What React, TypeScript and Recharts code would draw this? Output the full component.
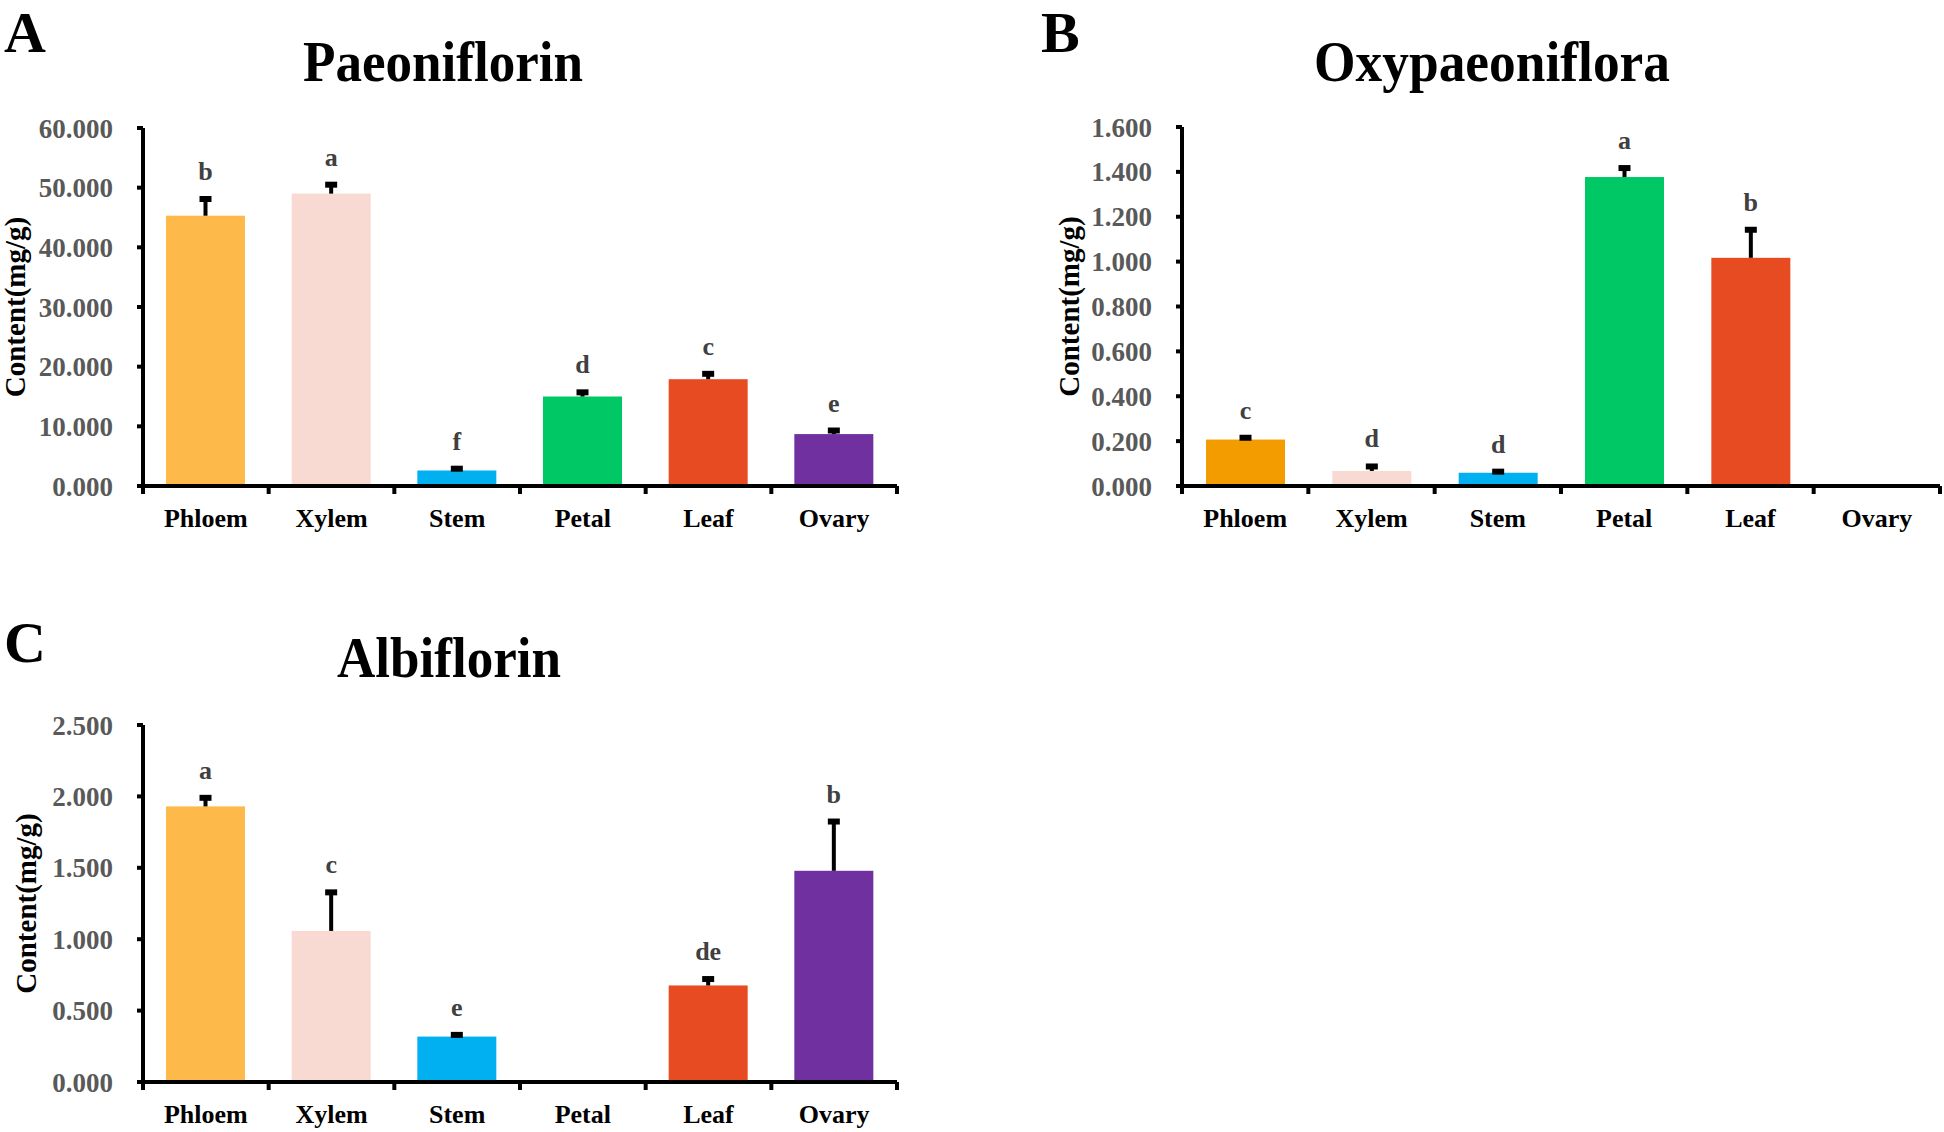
import { Bar, BarChart, Cell, XAxis, YAxis } from "recharts"

const FONT = '"Liberation Serif", "Times New Roman", serif'

const categories = ["Phloem", "Xylem", "Stem", "Petal", "Leaf", "Ovary"]

// A: Paeoniflorin (mg/g)
const paeoniflorin = [45.3, 49.0, 2.6, 15.0, 17.9, 8.7]
const paeoniflorinErr = [2.8, 1.5, 0.3, 0.7, 0.9, 0.6]
const paeoniflorinLetters = ["b", "a", "f", "d", "c", "e"]
const paeoniflorinTicks = [0, 10, 20, 30, 40, 50, 60]

// B: Oxypaeoniflora (mg/g)
const oxypaeoniflora = [0.207, 0.067, 0.059, 1.377, 1.017, 0]
const oxypaeonifloraErr = [0.008, 0.02, 0.005, 0.04, 0.125, 0]
const oxypaeonifloraLetters = ["c", "d", "d", "a", "b", ""]
const oxypaeonifloraTicks = [0, 0.2, 0.4, 0.6, 0.8, 1.0, 1.2, 1.4, 1.6]

// C: Albiflorin (mg/g)
const albiflorin = [1.93, 1.058, 0.318, 0, 0.676, 1.479]
const albiflorinErr = [0.06, 0.27, 0.012, 0, 0.045, 0.345]
const albiflorinLetters = ["a", "c", "e", "", "de", "b"]
const albiflorinTicks = [0, 0.5, 1.0, 1.5, 2.0, 2.5]

const colorsMain = ["#FDB94A", "#F8DAD2", "#00B0F0", "#00C864", "#E64B22", "#7030A0"]
const colorsOxy = ["#F39C00", "#F8DAD2", "#00B0F0", "#00C864", "#E64B22", "#7030A0"]

function CatTick(props: any) {
  const { x, y, payload, index, visibleTicksCount, half } = props
  return (
    <g>
      <line x1={x - half} x2={x - half} y1={y} y2={y + 8} stroke="#000" strokeWidth={4} />
      {index === visibleTicksCount - 1 && (
        <line x1={x + half} x2={x + half} y1={y} y2={y + 8} stroke="#000" strokeWidth={4} />
      )}
      <text x={x} y={y + 41} textAnchor="middle" fontFamily={FONT} fontSize={26} fontWeight={700} fill="#000">
        {payload.value}
      </text>
    </g>
  )
}

type PanelProps = {
  left: number
  top: number
  width: number
  height: number
  marginTop: number
  marginRight: number
  yWidth: number
  xHeight: number
  titleX: number
  values: number[]
  errors: number[]
  letters: string[]
  colors: string[]
  ticks: number[]
}

function Panel(p: PanelProps) {
  const data = categories.map((name, i) => ({ name, value: p.values[i] }))
  const half = (p.width - p.yWidth - p.marginRight) / 12

  // bar + upper error bar + significance letter, error length scaled by the bar's own px/unit
  const shape = (s: any) => {
    const i = categories.indexOf(s.payload?.name)
    const v = p.values[i]
    const { x, y, width, height, fill } = s
    if (!(height > 0) || !(v > 0)) return <g />
    const perUnit = height / v
    const cx = x + width / 2
    const capY = y - p.errors[i] * perUnit
    return (
      <g>
        <rect x={x} y={y} width={width} height={height} fill={fill} />
        <line x1={cx} x2={cx} y1={y} y2={capY} stroke="#000" strokeWidth={4} />
        <line x1={cx - 6} x2={cx + 6} y1={capY} y2={capY} stroke="#000" strokeWidth={6} />
        <text x={cx} y={capY - 19} textAnchor="middle" fontFamily={FONT} fontSize={26} fontWeight={700} fill="#404040">
          {p.letters[i]}
        </text>
      </g>
    )
  }

  return (
    <div style={{ position: "absolute", left: p.left, top: p.top }}>
      <BarChart
        width={p.width}
        height={p.height}
        data={data}
        barSize={79}
        margin={{ top: p.marginTop, right: p.marginRight, bottom: 0, left: 0 }}
      >
        <XAxis
          dataKey="name"
          height={p.xHeight}
          interval={0}
          axisLine={{ stroke: "#000", strokeWidth: 4 }}
          tickLine={false}
          tickSize={0}
          tickMargin={0}
          tick={(t: any) => <CatTick {...t} half={half} />}
        />
        <YAxis
          width={p.yWidth}
          domain={[p.ticks[0], p.ticks[p.ticks.length - 1]]}
          ticks={p.ticks}
          interval={0}
          tickFormatter={(v: number) => v.toFixed(3)}
          axisLine={{ stroke: "#000", strokeWidth: 4 }}
          tickLine={{ stroke: "#000", strokeWidth: 4 }}
          tickSize={6}
          tickMargin={24}
          tick={{ fill: "#595959", fontFamily: FONT, fontSize: 27, fontWeight: 700 }}
          label={{
            value: "Content(mg/g)",
            angle: -90,
            position: "insideLeft",
            offset: p.titleX,
            style: { textAnchor: "middle", fontFamily: FONT, fontSize: 29, fontWeight: 700, fill: "#000" },
          }}
        />
        <Bar dataKey="value" isAnimationActive={false} shape={shape}>
          {data.map((d, i) => (
            <Cell key={d.name} fill={p.colors[i]} />
          ))}
        </Bar>
      </BarChart>
    </div>
  )
}

export default function App() {
  const titleStyle = { fontFamily: FONT, fontWeight: 700, fill: "#000" }
  return (
    <div style={{ position: "relative", width: 1944, height: 1132, background: "#fff" }}>
      <style>{"body{margin:0}"}</style>
      <Panel
        left={0} top={0} width={960} height={560} marginTop={128} marginRight={63}
        yWidth={143} xHeight={74} titleX={15}
        values={paeoniflorin} errors={paeoniflorinErr} letters={paeoniflorinLetters}
        colors={colorsMain} ticks={paeoniflorinTicks}
      />
      <Panel
        left={1000} top={0} width={944} height={560} marginTop={127} marginRight={4}
        yWidth={182} xHeight={74} titleX={69}
        values={oxypaeoniflora} errors={oxypaeonifloraErr} letters={oxypaeonifloraLetters}
        colors={colorsOxy} ticks={oxypaeonifloraTicks}
      />
      <Panel
        left={0} top={580} width={960} height={552} marginTop={145} marginRight={63}
        yWidth={143} xHeight={50} titleX={26}
        values={albiflorin} errors={albiflorinErr} letters={albiflorinLetters}
        colors={colorsMain} ticks={albiflorinTicks}
      />
      <svg width={1944} height={1132} style={{ position: "absolute", left: 0, top: 0, pointerEvents: "none" }}>
        <text x={4} y={52} fontSize={58} {...titleStyle}>A</text>
        <text x={1041} y={52} fontSize={58} {...titleStyle}>B</text>
        <text x={4} y={662} fontSize={58} {...titleStyle}>C</text>
        <text x={443} y={81} fontSize={56} textAnchor="middle" textLength={280} lengthAdjust="spacingAndGlyphs" {...titleStyle}>
          Paeoniflorin
        </text>
        <text x={1492} y={81} fontSize={56} textAnchor="middle" textLength={356} lengthAdjust="spacingAndGlyphs" {...titleStyle}>
          Oxypaeoniflora
        </text>
        <text x={449} y={677} fontSize={56} textAnchor="middle" textLength={224} lengthAdjust="spacingAndGlyphs" {...titleStyle}>
          Albiflorin
        </text>
      </svg>
    </div>
  )
}
